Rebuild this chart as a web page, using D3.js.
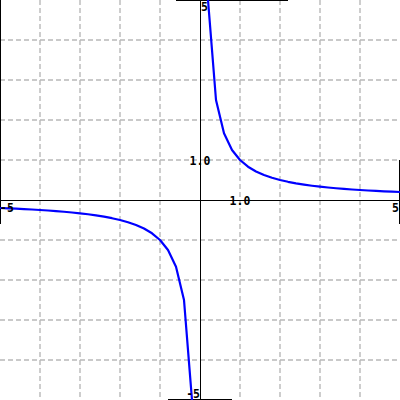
<!DOCTYPE html>
<html>
<head>
<meta charset="utf-8">
<script src="https://cdn.jsdelivr.net/npm/d3@7"></script>
<style>
html,body{margin:0;padding:0;background:#fff;}
svg{display:block;}
text{font-family:"DejaVu Sans Mono",monospace;font-weight:bold;font-size:11.5px;fill:#000;}
</style>
</head>
<body>
<svg id="chart" width="400" height="400"></svg>
<script>
// Domain limits
const xDomain = [-5, 5];
const yDomain = [-5, 5];
const gridTicks = [-4, -3, -2, -1, 1, 2, 3, 4];

// Curve samples (y = 1/x)
const posX = [0.2,0.4,0.6,0.8,1.0,1.2,1.4,1.6,1.8,2.0,2.2,2.4,2.6,2.8,3.0,3.2,3.4,3.6,3.8,4.0,4.2,4.4,4.6,4.8,5.0];
const posY = [5,2.5,1.667,1.25,1,0.833,0.714,0.625,0.556,0.5,0.455,0.417,0.385,0.357,0.333,0.3125,0.294,0.278,0.263,0.25,0.238,0.227,0.217,0.208,0.2];
const negX = [-5.0,-4.8,-4.6,-4.4,-4.2,-4.0,-3.8,-3.6,-3.4,-3.2,-3.0,-2.8,-2.6,-2.4,-2.2,-2.0,-1.8,-1.6,-1.4,-1.2,-1.0,-0.8,-0.6,-0.4,-0.2];
const negY = [-0.2,-0.208,-0.217,-0.227,-0.238,-0.25,-0.263,-0.278,-0.294,-0.3125,-0.333,-0.357,-0.385,-0.417,-0.455,-0.5,-0.556,-0.625,-0.714,-0.833,-1,-1.25,-1.667,-2.5,-5];

// Axis labels
const xMinLabel = "-5", xMaxLabel = "5", yMinLabel = "-5", yMaxLabel = "5";
const unitLabel = "1.0";

const W = 400, H = 400;
const svg = d3.select("#chart");
const x = d3.scaleLinear().domain(xDomain).range([0, W]);
const y = d3.scaleLinear().domain(yDomain).range([H, 0]);

// grid
const grid = svg.append("g").attr("stroke", "#b8b8b8").attr("stroke-width", 1.4).attr("stroke-dasharray", "5,3");
grid.selectAll(".gv").data(gridTicks).join("line")
  .attr("x1", d => x(d)).attr("x2", d => x(d)).attr("y1", 0).attr("y2", H);
grid.selectAll(".gh").data(gridTicks).join("line")
  .attr("y1", d => y(d)).attr("y2", d => y(d)).attr("x1", 0).attr("x2", W);

// frame fragments
const frame = svg.append("g").attr("stroke", "#000").attr("stroke-width", 1);
frame.append("line").attr("x1", 0.5).attr("x2", 0.5).attr("y1", 0).attr("y2", y(-0.6));
frame.append("line").attr("x1", x(-0.6)).attr("x2", x(2.2)).attr("y1", 0.5).attr("y2", 0.5);
frame.append("line").attr("x1", W - 0.5).attr("x2", W - 0.5).attr("y1", y(1)).attr("y2", y(-0.6));
frame.append("line").attr("x1", x(-0.8)).attr("x2", x(0.8)).attr("y1", H - 0.5).attr("y2", H - 0.5);

// axes
svg.append("line").attr("x1", 0).attr("x2", W).attr("y1", y(0) + 0.5).attr("y2", y(0) + 0.5)
  .attr("stroke", "#000").attr("stroke-width", 1);
svg.append("line").attr("y1", 0).attr("y2", H).attr("x1", x(0) + 0.5).attr("x2", x(0) + 0.5)
  .attr("stroke", "#000").attr("stroke-width", 1);

// curve
const line = d3.line().x(d => x(d[0])).y(d => y(d[1]));
const pos = posX.map((v, i) => [v, posY[i]]);
const neg = negX.map((v, i) => [v, negY[i]]);
[neg, pos].forEach(pts => {
  svg.append("path").attr("d", line(pts)).attr("fill", "none")
    .attr("stroke", "#0000ff").attr("stroke-width", 2.2).attr("stroke-linejoin", "round");
});

// labels
svg.append("text").attr("x", x(-5)).attr("y", y(0) + 12).attr("text-anchor", "start").text(xMinLabel);
svg.append("text").attr("x", x(5) - 1).attr("y", y(0) + 12).attr("text-anchor", "end").text(xMaxLabel);
svg.append("text").attr("x", x(0) + 1).attr("y", y(5) + 11).attr("text-anchor", "start").text(yMaxLabel);
svg.append("text").attr("x", x(0)).attr("y", y(-5) - 2).attr("text-anchor", "end").text(yMinLabel);
svg.append("text").attr("x", x(0)).attr("y", y(1) + 4.5).attr("text-anchor", "middle").text(unitLabel);
svg.append("text").attr("x", x(1)).attr("y", y(0) + 5).attr("text-anchor", "middle").text(unitLabel);
</script>
</body>
</html>
